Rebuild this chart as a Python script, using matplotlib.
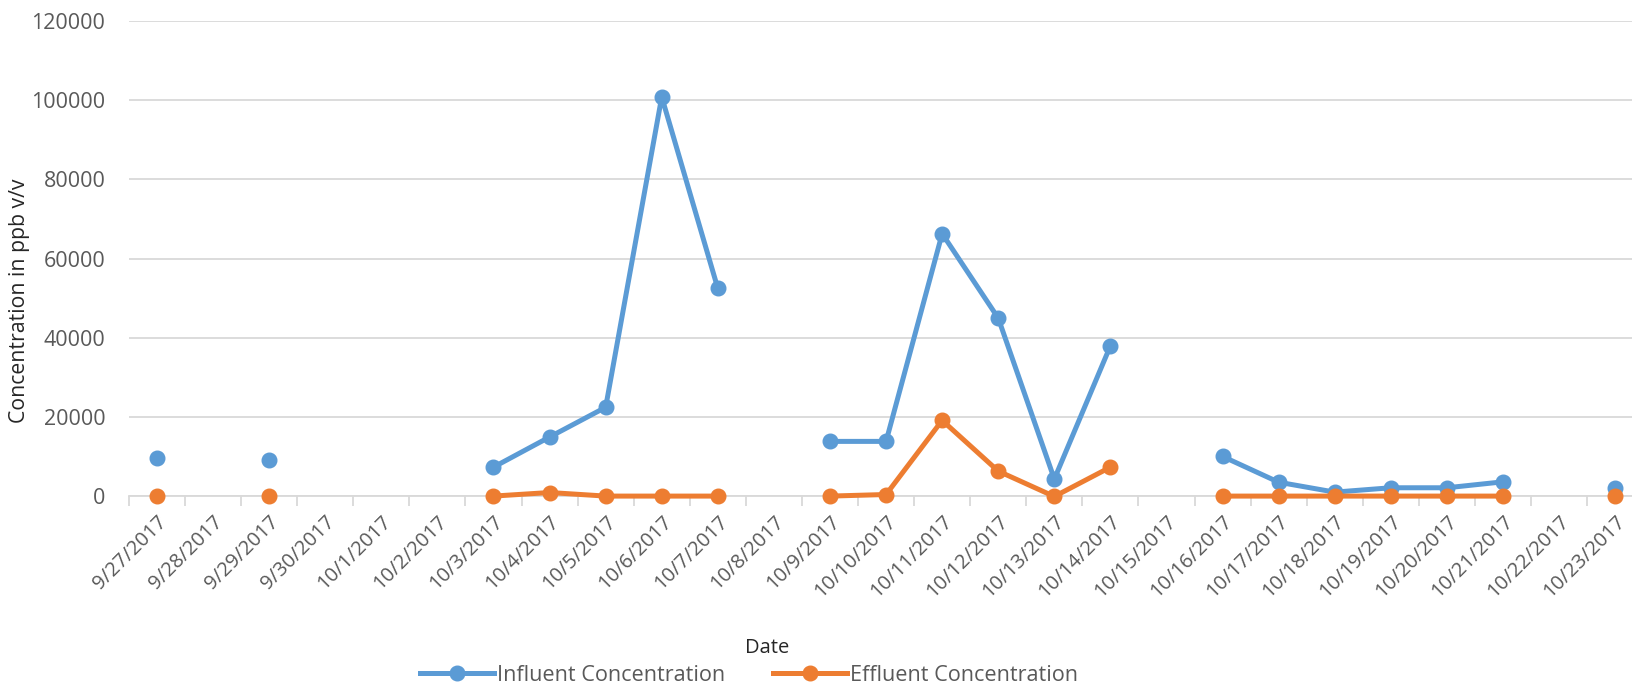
import numpy as np
import matplotlib
matplotlib.use('Agg')
import matplotlib.pyplot as plt
from matplotlib.ticker import FixedLocator

plt.rcParams['font.family'] = ['Open Sans', 'DejaVu Sans']

# data (NaN = no sample that day)
dates = ['9/27/2017', '9/28/2017', '9/29/2017', '9/30/2017', '10/1/2017', '10/2/2017',
         '10/3/2017', '10/4/2017', '10/5/2017', '10/6/2017', '10/7/2017', '10/8/2017',
         '10/9/2017', '10/10/2017', '10/11/2017', '10/12/2017', '10/13/2017', '10/14/2017',
         '10/15/2017', '10/16/2017', '10/17/2017', '10/18/2017', '10/19/2017', '10/20/2017',
         '10/21/2017', '10/22/2017', '10/23/2017']
nan = np.nan
influent = [9600, nan, 9200, nan, nan, nan, 7400, 15000, 22500, 100800, 52500, nan,
            13900, 13900, 66300, 45000, 4400, 38000, nan, 10100, 3600, 1100, 2200, 2200,
            3700, nan, 2100]
effluent = [100, nan, 100, nan, nan, nan, 100, 1000, 100, 100, 100, nan,
            100, 500, 19200, 6400, 0, 7400, nan, 100, 100, 100, 100, 100,
            100, nan, 100]

blue = '#5B9BD5'
orange = '#ED7D31'
gray_txt = '#595959'

fig = plt.figure(figsize=(16.32, 6.94), dpi=100)
ax = fig.add_axes([0.079, 0.2846, 0.921, 0.6854])

x = np.arange(len(dates))
ax.plot(x, influent, color=blue, lw=3.6, marker='o', ms=10.5, clip_on=False, zorder=3,
        label='Influent Concentration')
ax.plot(x, effluent, color=orange, lw=3.6, marker='o', ms=10.5, clip_on=False, zorder=4,
        label='Effluent Concentration')

ax.set_xlim(-0.5, 26.3)
ax.set_ylim(0, 120000)
ax.set_yticks(np.arange(0, 120001, 20000))
ax.yaxis.grid(True, color='#D9D9D9', lw=1.3)
ax.set_axisbelow(True)

for s in ['top', 'right', 'left']:
    ax.spines[s].set_visible(False)
ax.spines['bottom'].set_color('#D9D9D9')
ax.spines['bottom'].set_linewidth(1.3)

ax.set_xticks(x)
ax.set_xticklabels(dates, rotation=45, ha='right', rotation_mode='anchor',
                   fontsize=14.5, color=gray_txt)
ax.tick_params(axis='x', which='major', length=0, pad=11)
ax.xaxis.set_minor_locator(FixedLocator(np.arange(-0.5, 27, 1)))
ax.tick_params(axis='x', which='minor', length=7, color='#D9D9D9', width=1.3)
ax.tick_params(axis='y', length=0, labelsize=15.5, labelcolor=gray_txt, pad=17)

fig.text(0.012, 0.566, 'Concentration in ppb v/v', rotation=90, ha='center', va='center',
         fontsize=15.3, color='#262626')
fig.text(0.470, 0.066, 'Date', ha='center', va='center', fontsize=14.5, color='#262626')

fig.legend(loc='center', bbox_to_anchor=(0.459, 0.027), ncol=2, frameon=False,
           fontsize=15.6, labelcolor=gray_txt, handlelength=3.4, columnspacing=2.2,
           handletextpad=0.15)

fig.savefig('out.png', dpi=100)
